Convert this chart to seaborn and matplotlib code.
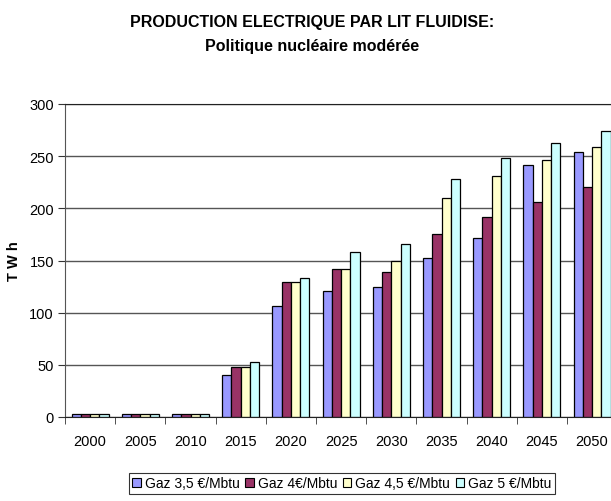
import pandas as pd
import matplotlib
matplotlib.use('Agg')
import matplotlib.pyplot as plt
import seaborn as sns
from matplotlib.patches import Patch
from matplotlib.ticker import FixedLocator

years = ['2000', '2005', '2010', '2015', '2020', '2025', '2030', '2035', '2040', '2045', '2050']
series = ['Gaz 3,5 €/Mbtu', 'Gaz 4€/Mbtu', 'Gaz 4,5 €/Mbtu', 'Gaz 5 €/Mbtu']
gaz_35 = [3, 3, 3, 40, 106, 121, 125, 152, 172, 242, 254]
gaz_40 = [3, 3, 3, 48, 129, 142, 139, 175, 192, 206, 220]
gaz_45 = [3, 3, 3, 48, 129, 142, 150, 210, 231, 246, 259]
gaz_50 = [3, 3, 3, 53, 133, 158, 166, 228, 248, 263, 274]
colors = ['#9999FF', '#993366', '#FFFFCC', '#CCFFFF']

rows = []
for name, vals in zip(series, [gaz_35, gaz_40, gaz_45, gaz_50]):
    for y, v in zip(years, vals):
        rows.append({'Année': y, 'TWh': v, 'Scénario': name})
df = pd.DataFrame(rows)

sns.set_style('white')
plt.rcParams['font.family'] = ['Liberation Sans', 'DejaVu Sans']
plt.rcParams['text.color'] = 'black'
plt.rcParams['axes.labelcolor'] = 'black'
plt.rcParams['xtick.labelcolor'] = 'black'
plt.rcParams['ytick.labelcolor'] = 'black'

fig = plt.figure(figsize=(6.11, 5.02), dpi=100)
# axes run a little past the right edge, as in the original
ax = fig.add_axes([65 / 611, 84 / 502, 11 * 50.2 / 611, 313 / 502])

sns.barplot(data=df, x='Année', y='TWh', hue='Scénario', order=years,
            hue_order=series, palette=colors, edgecolor='black', linewidth=0.9,
            width=0.74, gap=0, saturation=1, legend=False, ax=ax)

ax.set_ylim(0, 300)
ax.set_xlim(-0.5, len(years) - 0.5)
ax.set_yticks(range(0, 301, 50))
ax.yaxis.grid(True, color='#555555', linewidth=1)
ax.set_axisbelow(True)
ax.spines['right'].set_visible(False)
ax.spines['top'].set_color('#222222')
ax.spines['left'].set_color('#555555')
ax.spines['bottom'].set_color('#222222')

ax.tick_params(axis='y', direction='out', length=5, color='#333333', labelsize=10.5, pad=3, left=True)
ax.tick_params(axis='x', which='major', length=0, labelsize=10.5, pad=12)
ax.xaxis.set_minor_locator(FixedLocator([i - 0.5 for i in range(len(years) + 1)]))
ax.tick_params(axis='x', which='minor', direction='out', length=5, color='#333333', bottom=True)

ax.set_xlabel('')
ax.set_ylabel('T W h', fontsize=10.5, fontweight='bold', labelpad=6)

fig.text(312 / 611, 1 - 22 / 502, 'PRODUCTION ELECTRIQUE PAR LIT FLUIDISE:', ha='center', va='center',
         fontsize=11.5, fontweight='bold')
fig.text(312 / 611, 1 - 46 / 502, 'Politique nucléaire modérée', ha='center', va='center',
         fontsize=11.5, fontweight='bold')

handles = [Patch(facecolor=c, edgecolor='black', linewidth=0.8) for c in colors]
leg = fig.legend(handles, series, loc='center', bbox_to_anchor=(342 / 611, 1 - 484.5 / 502),
                 ncol=4, frameon=True, fancybox=False, fontsize=10,
                 handlelength=0.6, handleheight=0.6, handletextpad=0.3,
                 columnspacing=0.4, borderpad=0.25, borderaxespad=0)
leg.get_frame().set_edgecolor('black')
leg.get_frame().set_linewidth(0.8)

plt.savefig('out.png', dpi=100)
